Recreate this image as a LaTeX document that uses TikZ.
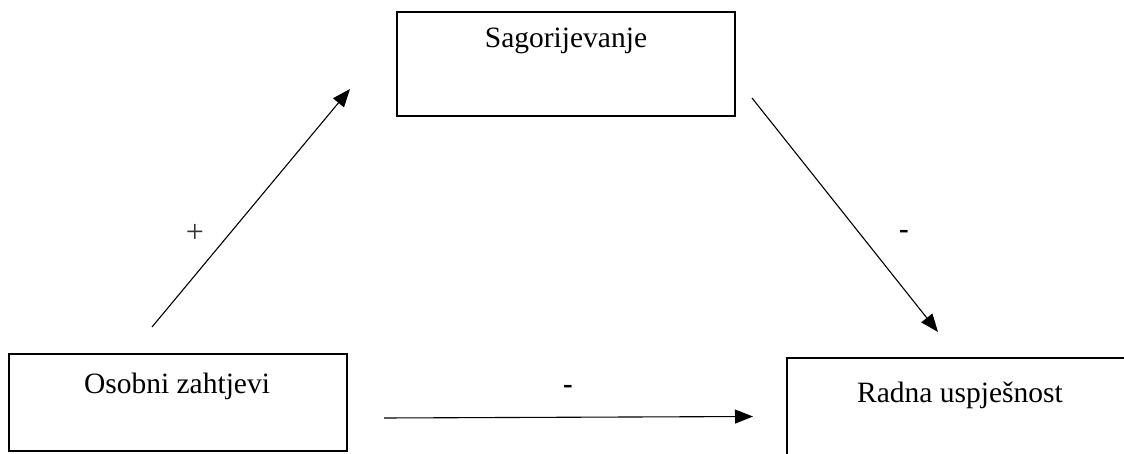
\documentclass[tikz,border=0pt]{standalone}
\usepackage{fontspec}
\setmainfont{Liberation Serif}
\usetikzlibrary{arrows.meta}
\begin{document}
\begin{tikzpicture}[x=1pt,y=-1pt,
  box/.style={draw,line width=1.2pt,inner sep=0pt},
  lbl/.style={font=\fontsize{29.5}{32}\selectfont,anchor=base,inner sep=0pt},
  sgn/.style={font=\fontsize{29}{32}\selectfont\bfseries,inner sep=0pt},
  arr/.style={line width=1.1pt,-{Triangle[length=18pt,width=14pt]}}]
\useasboundingbox (0,0) rectangle (1124,454);
\clip (0,0) rectangle (1124,454);
% boxes
\node[box,minimum width=338pt,minimum height=104pt] (sag) at (566,64) {};
\node[box,minimum width=338pt,minimum height=97pt] (oso) at (178,402.5) {};
\node[box,minimum width=346pt,minimum height=104pt] (rad) at (960,410) {};
% texts
\node[lbl] (tsag) at (566,48) {Sagorijevanje};
\node[lbl] (toso) at (177,393) {Osobni zahtjevi};
\node[lbl] (trad) at (960,402) {Radna uspješnost};
% arrow ends
\coordinate (a1s) at (152,327);
\coordinate (a1e) at (350,89);
\coordinate (a2s) at (752,98);
\coordinate (a2e) at (938,332);
\coordinate (a3s) at (384,418);
\coordinate (a3e) at (753,416.5);
\draw[arr] (a1s) -- (a1e);
\draw[arr] (a2s) -- (a2e);
\draw[arr] (a3s) -- (a3e);
% signs
\node[inner sep=0pt,font=\fontsize{32}{36}\selectfont,text=black!80] (plus) at (195,233) {+};
\node[sgn] (m1) at (904,234) {-};
\node[sgn] (m2) at (568,389) {-};
\end{tikzpicture}
\end{document}
